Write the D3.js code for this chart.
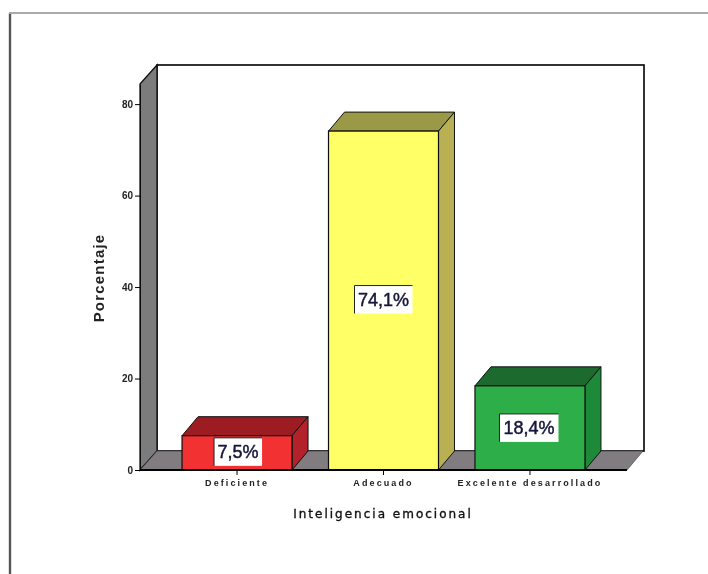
<!DOCTYPE html>
<html><head><meta charset="utf-8">
<style>html,body{margin:0;padding:0;background:#fff}svg{display:block}</style>
<script src="https://cdn.jsdelivr.net/npm/d3@7"></script></head>
<body><svg id="c" width="708" height="574"></svg>
<script>
const categories = ["Deficiente","Adecuado","Excelente desarrollado"];
const percentages = [7.5,74.1,18.4];
const valueLabels = ["7,5%","74,1%","18,4%"];
const yTicks = [0,20,40,60,80];
const frontColors = ["#f23333","#ffff66","#2fae4a"];
const topColors = ["#9c1c22","#999947","#1b6b2e"];
const sideColors = ["#b3222a","#b8b052","#1f8a38"];

const svg = d3.select("#c");
const root = svg.append("g").attr("filter","url(#soft)");
svg.append("defs").append("filter").attr("id","soft")
  .append("feGaussianBlur").attr("stdDeviation",0.45);

const dx=16, dy=19;
const x = d3.scaleBand().domain(categories).range([140,627]).paddingInner(0.249).paddingOuter(0.287);
const y = d3.scaleLinear().domain([0,84.4]).range([470,84]);
const [x0,x1]=x.range(), [yb,yt]=y.range();
const pts = a=>a.map(p=>p.join(",")).join(" ");

// outer frame
root.append("path").attr("d","M10,574V13").attr("stroke","#555").attr("stroke-width",2.4).attr("fill","none");
root.append("path").attr("d","M9,13H708").attr("stroke","#aaa").attr("stroke-width",2).attr("fill","none");

// walls
root.append("rect").attr("x",x0+dx+1).attr("y",yt-dy).attr("width",x1-x0).attr("height",yb-yt)
  .attr("fill","#fff").attr("stroke","#111").attr("stroke-width",1.7);
root.append("polygon").attr("points",pts([[x0,yt],[x0+dx+1,yt-dy],[x0+dx+1,yb-dy],[x0,yb]]))
  .attr("fill","#7c7c7c").attr("stroke","#111").attr("stroke-width",1.3);
root.append("polygon").attr("points",pts([[x0,yb],[x0+dx+1,yb-dy],[x1+dx,yb-dy],[x1,yb]]))
  .attr("fill","#807c80").attr("stroke","#333").attr("stroke-width",.6);

// bars
const bars = root.selectAll("g.bar").data(categories).join("g").attr("class","bar");
bars.each(function(c,i){
  const g=d3.select(this), l=x(c), r=l+x.bandwidth(), t=y(percentages[i]);
  g.append("polygon").attr("points",pts([[l,t],[l+dx,t-dy],[r+dx,t-dy],[r,t]]))
    .attr("fill",topColors[i]).attr("stroke","#111").attr("stroke-width",1);
  g.append("polygon").attr("points",pts([[r,t],[r+dx,t-dy],[r+dx,yb-dy],[r,yb]]))
    .attr("fill",sideColors[i]).attr("stroke","#111").attr("stroke-width",1);
  g.append("rect").attr("x",l).attr("y",t).attr("width",r-l).attr("height",yb-t)
    .attr("fill",frontColors[i]).attr("stroke","#111").attr("stroke-width",1.2);
});

// axes
const yAxis = d3.axisLeft(y).tickValues(yTicks).tickSize(5).tickSizeOuter(0).tickPadding(2);
const ya = root.append("g").attr("transform",`translate(${x0},0)`).call(yAxis);
ya.select(".domain").attr("stroke","#111");
ya.selectAll("text").attr("font-family","Liberation Sans").attr("font-size",10).attr("font-weight","bold").attr("fill","#222");
const xAxis = d3.axisBottom(x).tickSize(5).tickSizeOuter(0).tickPadding(5);
const xa = root.append("g").attr("transform",`translate(0,${yb})`).call(xAxis);
xa.select(".domain").attr("d",`M${x0},0H${x1}`).attr("stroke","#000").attr("stroke-width",2);
xa.selectAll("text").attr("font-family","Liberation Sans").attr("font-size",9).attr("font-weight","bold")
  .attr("letter-spacing",2.1).attr("fill","#222");

// value labels
const labY = [y(percentages[0]/2)-1, y(percentages[1]/2)-1, y(percentages[2]/2)];
const labW = [48,58,59], labH=28;
valueLabels.forEach((t,i)=>{
  const cx=x(categories[i])+x.bandwidth()/2+[1,0,-1][i], cy=labY[i];
  root.append("rect").attr("x",cx-labW[i]/2).attr("y",cy-labH/2).attr("width",labW[i]).attr("height",labH).attr("fill","#fff");
  root.append("path").attr("d",`M${cx-labW[i]/2},${cy+labH/2}V${cy-labH/2}H${cx+labW[i]/2}`)
    .attr("fill","none").attr("stroke","#222").attr("stroke-width",1);
  root.append("text").attr("x",cx).attr("y",cy+6.5).attr("text-anchor","middle")
    .attr("font-family","Liberation Sans").attr("font-size",18).attr("fill","#14143a")
    .attr("stroke","#14143a").attr("stroke-width",.45).text(t);
});

// titles
root.append("text").attr("x",383).attr("y",518).attr("text-anchor","middle")
  .attr("font-family","DejaVu Sans").attr("font-size",12).attr("letter-spacing",2).attr("fill","#111")
  .attr("stroke","#111").attr("stroke-width",.35).text("Inteligencia emocional");
root.append("text").attr("transform","translate(104,278) rotate(-90)").attr("text-anchor","middle")
  .attr("font-family","Liberation Sans").attr("font-size",15).attr("font-weight","bold")
  .attr("letter-spacing",1.2).attr("fill","#222").text("Porcentaje");
</script></body></html>
